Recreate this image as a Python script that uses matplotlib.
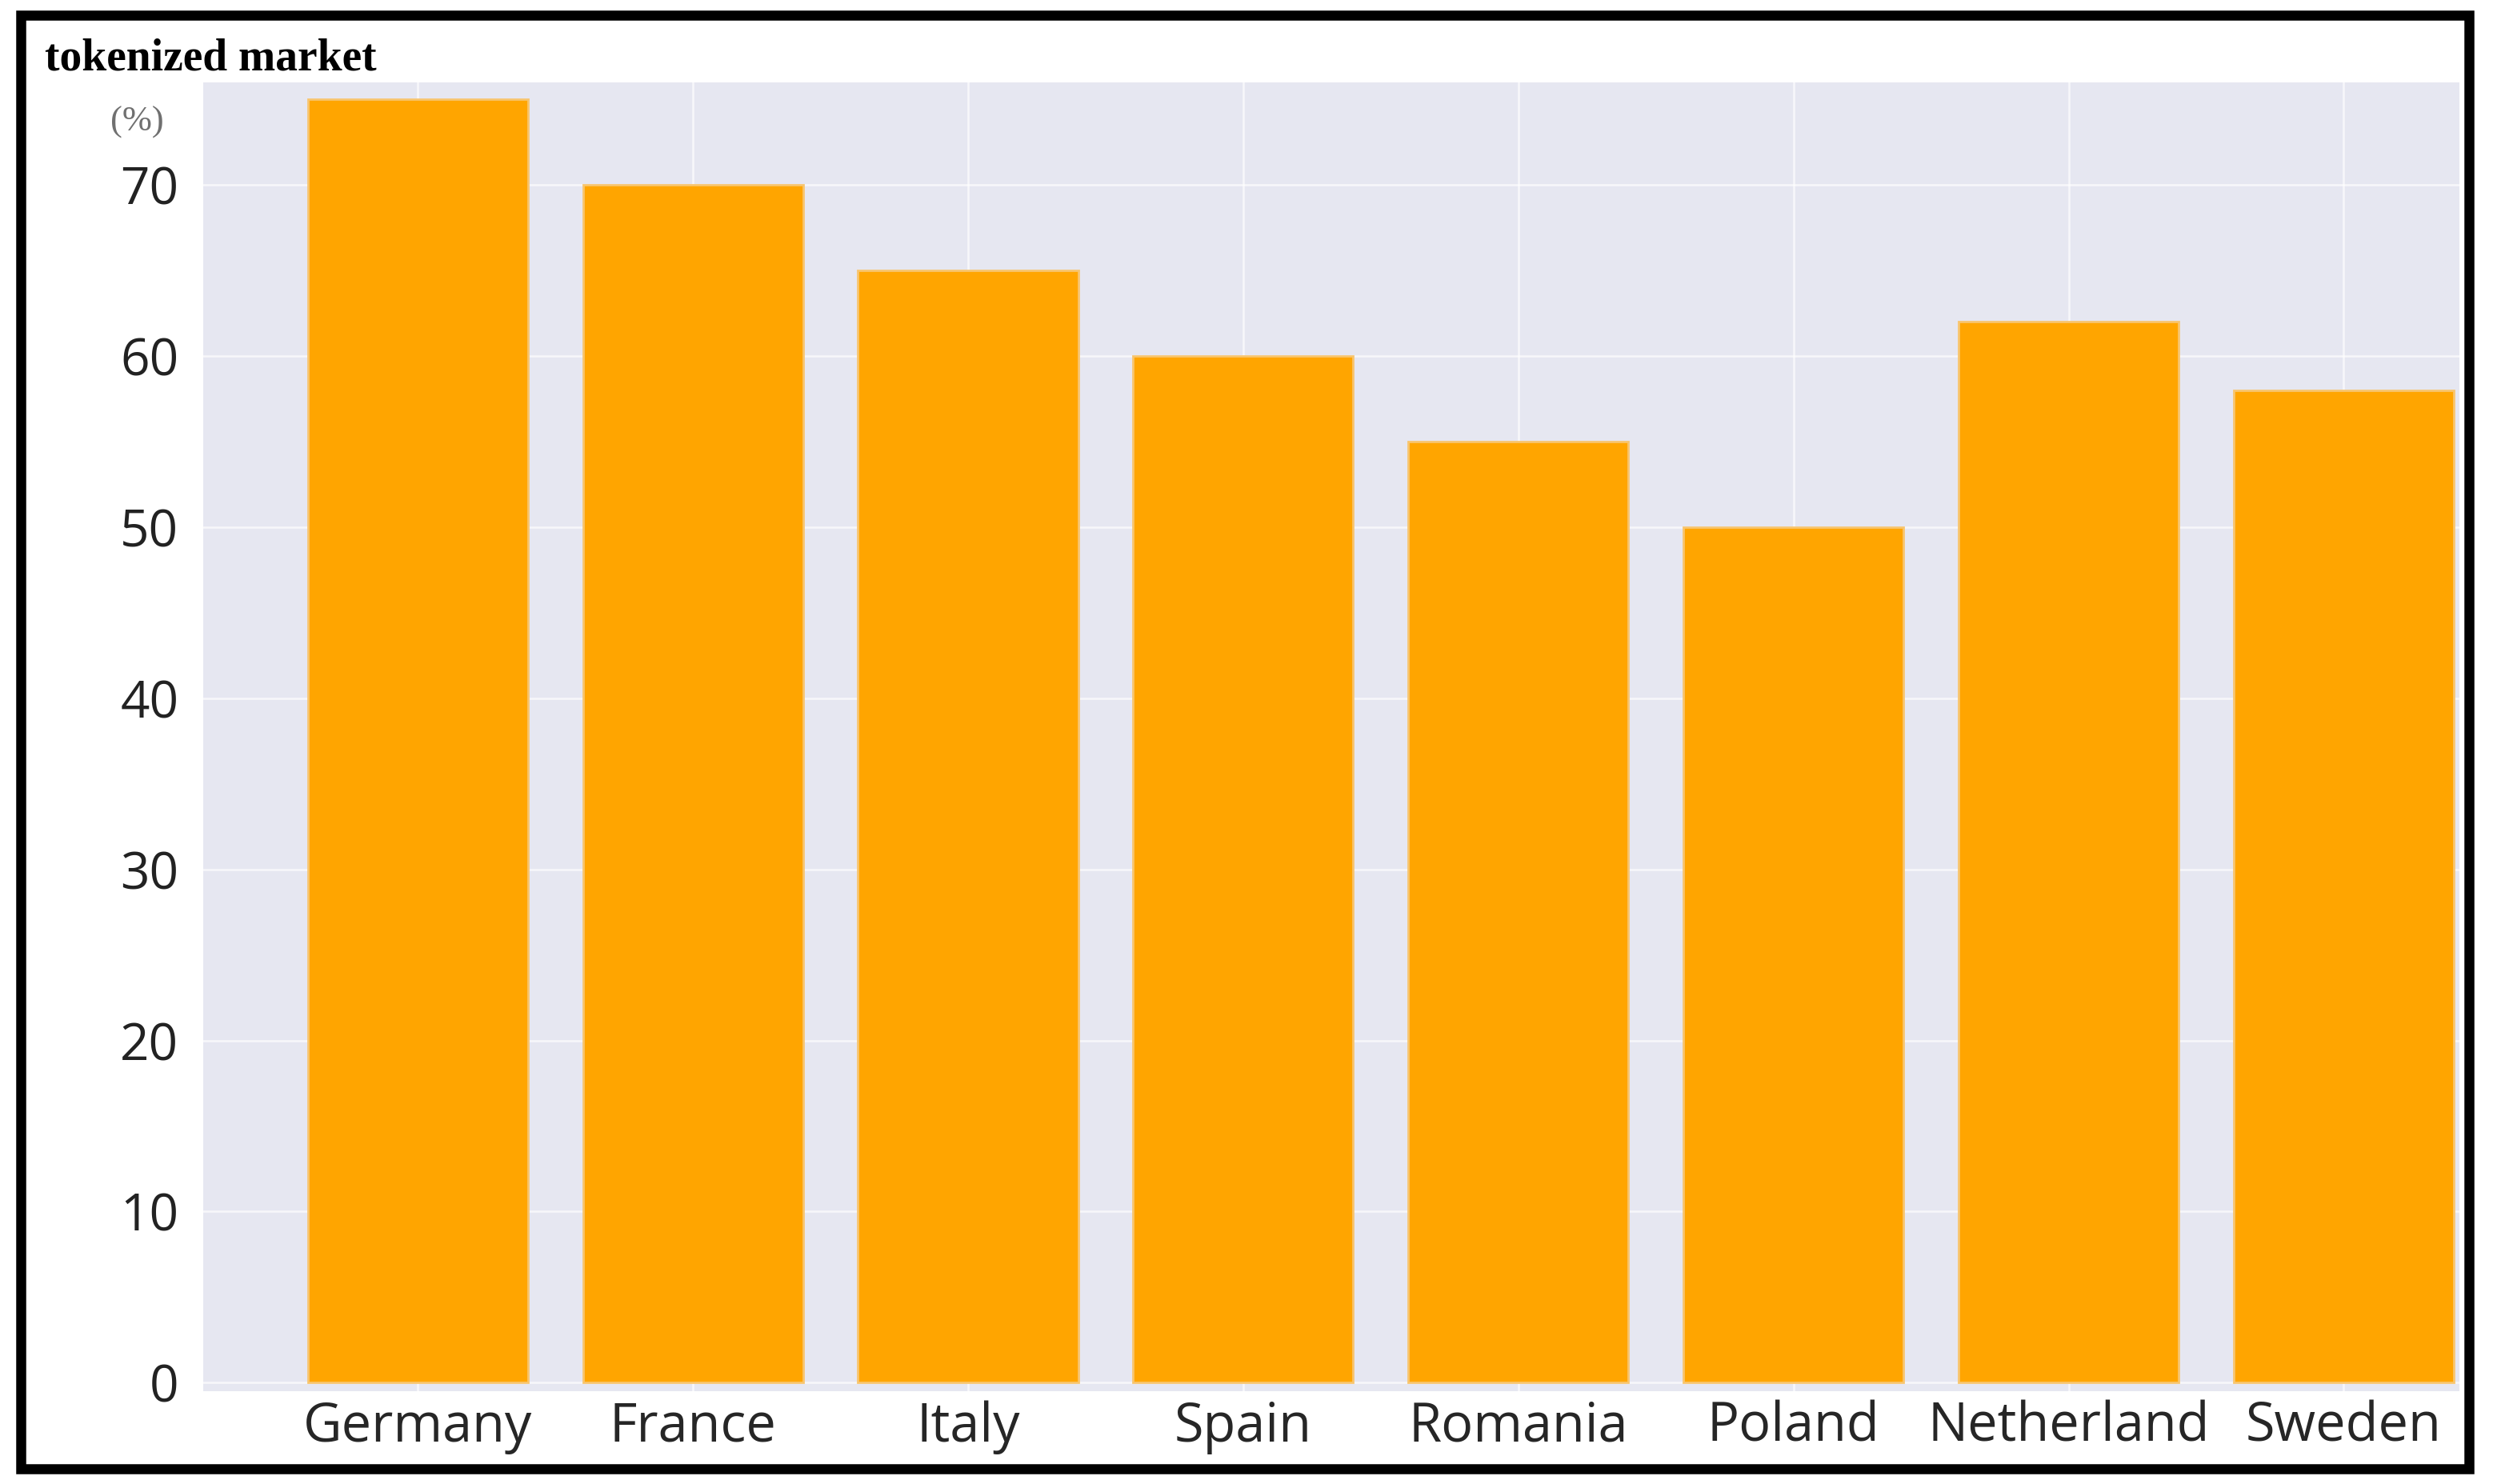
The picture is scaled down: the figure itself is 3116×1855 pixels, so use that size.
"""Tokenized market share by country - bar chart."""

import matplotlib.pyplot as plt
from matplotlib.patches import Rectangle

countries = ["Germany", "France", "Italy", "Spain", "Romania", "Poland", "Netherland", "Sweden"]
shares = [75, 70, 65, 60, 55, 50, 62, 58]
y_ticks = [0, 10, 20, 30, 40, 50, 60, 70]

BAR_COLOR = "#ffa500"
BG_COLOR = "#e6e7f1"

fig = plt.figure(figsize=(31.16, 18.55), dpi=100)
ax = fig.add_axes([0.0815, 0.0625, 0.905, 0.882])
ax.set_facecolor(BG_COLOR)

x_pos = list(range(len(countries)))
ax.bar(x_pos, shares, width=0.8, color=BAR_COLOR, edgecolor="#f8c56e",
       linewidth=2, zorder=3)

ax.set_xlim(-0.78, 7.42)
ax.set_ylim(-0.5, 76)
ax.set_xticks(x_pos)
ax.set_xticklabels(countries, fontsize=48, family="Open Sans", color="#262626")
ax.set_yticks(y_ticks)
ax.set_yticklabels([str(v) for v in y_ticks], fontsize=46, family="Open Sans",
                   color="#222222")
ax.tick_params(axis="x", length=0, pad=8)
ax.tick_params(axis="y", length=0, pad=22)
ax.grid(color="white", linewidth=1.8, alpha=0.7, zorder=1)
ax.set_axisbelow(True)
for spine in ax.spines.values():
    spine.set_visible(False)

# title and unit label
fig.text(0.018, 0.953, "tokenized market", fontsize=40, family="Liberation Serif",
         fontweight="bold", color="black", va="baseline", ha="left")
fig.text(0.055, 0.9175, "(%)", fontsize=32, family="Liberation Serif",
         color="#707070", va="center", ha="center")

# black frame around everything
fig.patches.append(Rectangle((0.0085, 0.0105), 0.982, 0.9795, transform=fig.transFigure,
                             fill=False, edgecolor="black", linewidth=9))

fig.savefig("out.png", dpi=100, facecolor="white")
